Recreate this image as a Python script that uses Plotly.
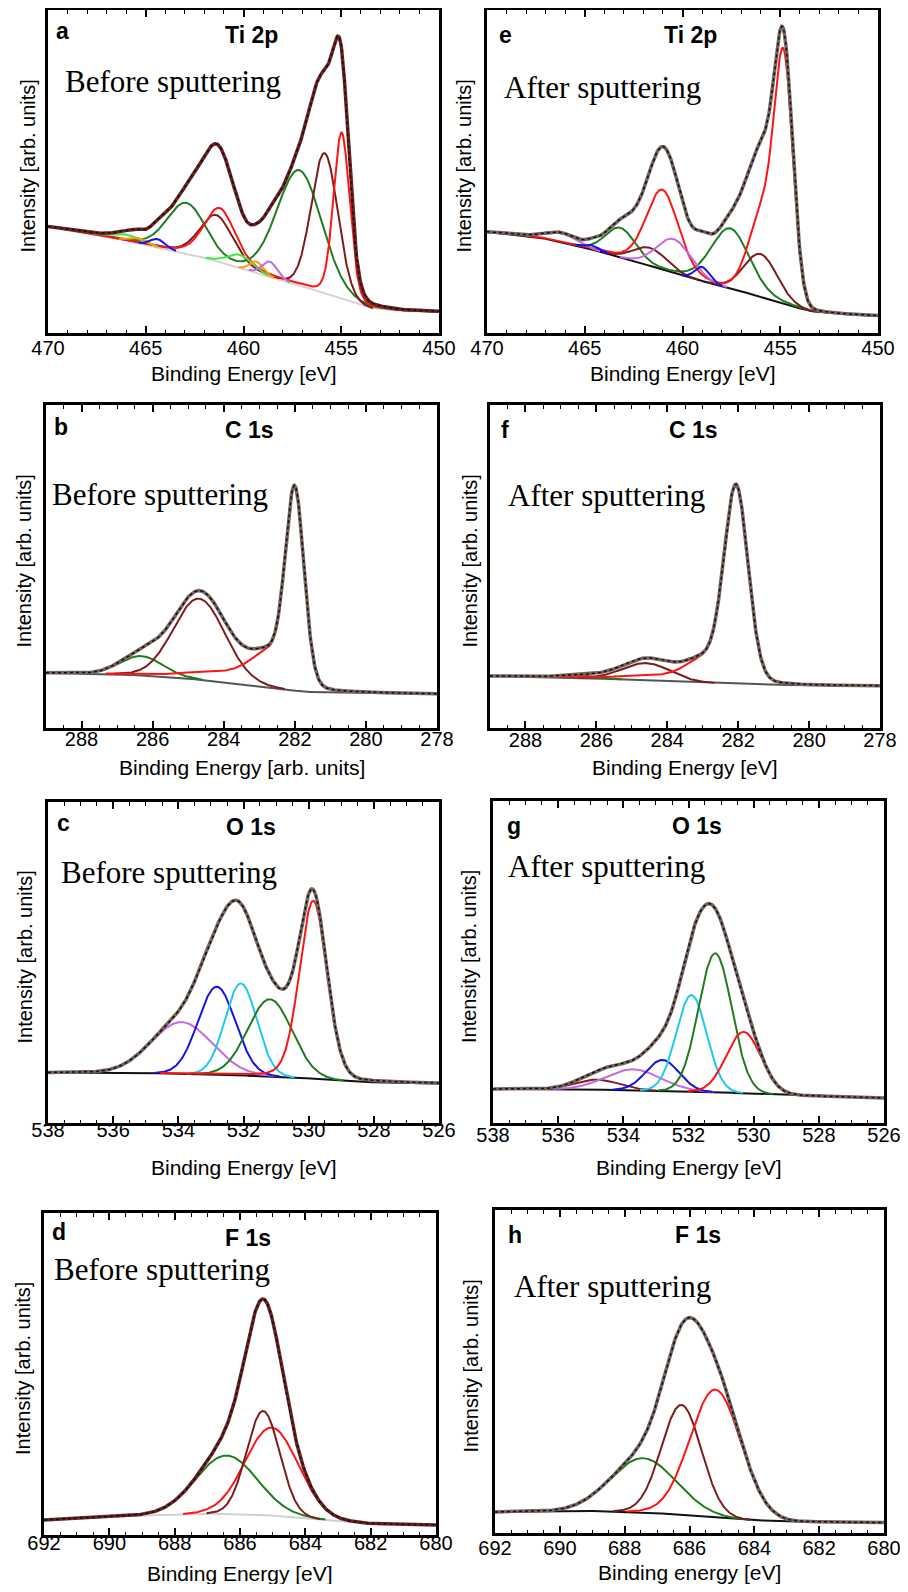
import numpy as np
import plotly.graph_objects as go

# ---- a: Ti 2p before sputtering
a_bg_ev = [470, 467.4, 464.9, 462.3, 459.8, 457.2, 454.65, 453.5, 452, 450]
a_bg_int = [106, 98, 88, 77, 63, 48, 32, 25, 22, 21]
a_center = [462.92, 457.13, 461.39, 455.85, 461.22, 454.98, 466.0, 460.2, 465.4, 459.34, 464.4, 458.66]
a_height = [50, 115, 46, 140, 54, 166, 6, 13, 5, 11, 8, 15]
a_fwhm = [2.3, 2.7, 2.0, 1.6, 1.9, 0.97, 1.6, 1.5, 1.0, 0.8, 0.9, 0.9]
a_mix = [0.1, 0.1, 0.2, 0, 0.3, 0.15, 0, 0, 0, 0, 0, 0]
a_comp = ['green', 'green', 'maroon', 'maroon', 'red', 'red', 'lime', 'lime', 'orange', 'orange', 'blue', 'violet']

# ---- e: Ti 2p after sputtering
e_bg_ev = [470, 467.4, 464.9, 462.3, 459.8, 457.2, 454.65, 453.5, 452, 450]
e_bg_int = [101, 96, 85, 71, 56, 43, 28, 22, 19, 17]
e_center = [463.18, 457.55, 461.65, 456.0, 461.03, 454.8, 455.8, 466.2, 460.45, 464.63, 459.0]
e_height = [29, 60, 18, 43, 80, 215, 90, 9, 34, 4, 14]
e_fwhm = [1.8, 2.3, 2.0, 2.0, 1.95, 1.09, 1.8, 1.8, 2.1, 0.9, 0.9]
e_mix = [0, 0.2, 0, 0, 0.2, 0, 0, 0, 0, 0, 0]
e_comp = ['green', 'green', 'maroon', 'maroon', 'red', 'red', 'red', 'violet', 'violet', 'blue', 'blue']

# ---- b: C 1s before sputtering
b_bg_ev = [289, 287, 285, 283, 281.7, 280, 278]
b_bg_int = [55, 54, 49.5, 42, 36, 35, 34]
b_center = [286.31, 284.69, 282.0, 282.7, 284.0]
b_height = [19.5, 81, 190, 30, 8]
b_fwhm = [1.4, 1.7, 0.62, 1.3, 2.5]
b_mix = [0, 0, 0.1, 0.3, 0]
b_comp = ['green', 'maroon', 'red', 'red', 'red']

# ---- f: C 1s after sputtering
f_bg_ev = [289, 286, 284, 282, 280, 278]
f_bg_int = [52, 49.5, 46.5, 44, 42.5, 42]
f_center = [286.5, 284.59, 282.06, 283.0, 284.3]
f_height = [2.5, 17.5, 195, 20, 4]
f_fwhm = [1.4, 1.6, 0.8, 1.2, 2.5]
f_mix = [0, 0, 0.1, 0.3, 0]
f_comp = ['green', 'maroon', 'red', 'red', 'red']

# ---- c: O 1s before sputtering
c_bg_ev = [538, 535, 533, 531, 529.5, 528.5, 526]
c_bg_int = [50.5, 50, 48.5, 46.5, 43.5, 41, 39.5]
c_center = [533.9, 532.82, 532.08, 531.19, 529.86]
c_height = [51.7, 88, 92, 77, 178]
c_fwhm = [2.2, 1.35, 1.15, 1.6, 1.0]
c_mix = [0, 0, 0, 0, 0.15]
c_comp = ['violet', 'blue', 'cyan', 'green', 'red']

# ---- g: O 1s after sputtering
g_bg_ev = [538, 535, 532, 530, 528.5, 526]
g_bg_int = [34, 33.5, 31.5, 29.5, 27.5, 25]
g_center = [534.8, 533.7, 532.8, 531.91, 531.18, 530.31]
g_height = [10, 21, 31, 96.5, 139, 61.3]
g_fwhm = [1.6, 2.0, 1.2, 1.1, 1.2, 1.25]
g_mix = [0, 0, 0, 0, 0, 0]
g_comp = ['maroon', 'violet', 'blue', 'cyan', 'green', 'red']

# ---- d: F 1s before sputtering
d_bg_ev = [692, 689, 687, 685.5, 684, 683, 682, 680]
d_bg_int = [15, 19.5, 21.5, 20.5, 17, 14, 11.5, 10]
d_center = [686.41, 685.03, 685.29]
d_height = [58.4, 88, 104]
d_fwhm = [2.2, 1.9, 1.2]
d_mix = [0, 0, 0]
d_comp = ['green', 'red', 'maroon']

# ---- h: F 1s after sputtering
h_bg_ev = [692, 689, 687.5, 686, 684.5, 683, 680]
h_bg_int = [21, 22, 21, 17.5, 13.5, 11.5, 10.5]
h_center = [687.42, 686.25, 685.2]
h_height = [54, 110, 128]
h_fwhm = [2.4, 1.45, 1.85]
h_mix = [0, 0, 0]
h_comp = ['green', 'maroon', 'red']

# axis ranges (high BE on the left) and tick steps
x_ranges = {'a': (470, 450), 'e': (470, 450), 'b': (289, 278), 'f': (289, 278),
            'c': (538, 526), 'g': (538, 526), 'd': (692, 680), 'h': (692, 680)}
x_dtick = {'a': (5, 1), 'e': (5, 1), 'b': (2, 0.5), 'f': (2, 0.5),
           'c': (2, 0.5), 'g': (2, 0.5), 'd': (2, 0.5), 'h': (2, 0.5)}

# texts
titles = {'a': 'Ti 2p', 'e': 'Ti 2p', 'b': 'C 1s', 'f': 'C 1s',
          'c': 'O 1s', 'g': 'O 1s', 'd': 'F 1s', 'h': 'F 1s'}
states = {'a': 'Before sputtering', 'b': 'Before sputtering', 'c': 'Before sputtering', 'd': 'Before sputtering',
          'e': 'After sputtering', 'f': 'After sputtering', 'g': 'After sputtering', 'h': 'After sputtering'}
x_titles = {'a': 'Binding Energy [eV]', 'e': 'Binding Energy [eV]',
            'b': 'Binding Energy [arb. units]', 'f': 'Binding Energy [eV]',
            'c': 'Binding Energy [eV]', 'g': 'Binding Energy [eV]',
            'd': 'Binding Energy [eV]', 'h': 'Binding energy [eV]'}
y_title = 'Intensity [arb. units]'

panels = {
    'a': (a_bg_ev, a_bg_int, a_center, a_height, a_fwhm, a_mix, a_comp),
    'e': (e_bg_ev, e_bg_int, e_center, e_height, e_fwhm, e_mix, e_comp),
    'b': (b_bg_ev, b_bg_int, b_center, b_height, b_fwhm, b_mix, b_comp),
    'f': (f_bg_ev, f_bg_int, f_center, f_height, f_fwhm, f_mix, f_comp),
    'c': (c_bg_ev, c_bg_int, c_center, c_height, c_fwhm, c_mix, c_comp),
    'g': (g_bg_ev, g_bg_int, g_center, g_height, g_fwhm, g_mix, g_comp),
    'd': (d_bg_ev, d_bg_int, d_center, d_height, d_fwhm, d_mix, d_comp),
    'h': (h_bg_ev, h_bg_int, h_center, h_height, h_fwhm, h_mix, h_comp),
}

#%% styles and geometry
# the page body keeps its default 8px margin: keep the figure inside it so nothing scrolls
OFF = 8
W, H = 908 - 2 * OFF, 1592 - 2 * OFF
colors = {'red': '#ff1414', 'maroon': '#7d1c1c', 'green': '#1f7d1f', 'lime': '#3fe83f',
          'orange': '#ff9a10', 'blue': '#1414e6', 'violet': '#c46be0', 'cyan': '#1ec8f5'}
bg_color = {'a': '#d4d4d4', 'e': '#111111', 'b': '#555555', 'f': '#555555',
            'c': '#111111', 'g': '#111111', 'd': '#d0d0d0', 'h': '#111111'}
env_color = {'a': '#6a2222', 'd': '#6a2222'}
# frame boxes in page px: left, right, top, bottom
frames = {'a': (48, 439, 10, 333), 'e': (487, 878, 10, 333),
          'b': (46, 437, 405, 728), 'f': (490, 880, 405, 728),
          'c': (48, 439, 802, 1123), 'g': (493, 884, 801, 1123),
          'd': (44, 436, 1213, 1535), 'h': (495, 884, 1210, 1533)}
state_pos = {'a': (15, 71), 'b': (4, 89), 'c': (11, 70), 'd': (8, 56),
             'e': (15, 77), 'f': (16, 90), 'g': (13, 65), 'h': (17, 76)}
letter_pos = {'a': (6, 21), 'b': (6, 22), 'c': (7, 21), 'd': (6, 19),
              'e': (10, 25), 'f': (9, 25), 'g': (12, 25), 'h': (11, 25)}
tick_standoff = {'a': -5, 'e': -5, 'b': -9, 'f': -8, 'c': -13, 'g': -8, 'd': -12, 'h': -5}
xtitle_gap = {'a': 40, 'e': 40, 'b': 39, 'f': 39, 'c': 44, 'g': 44, 'd': 38, 'h': 39}
ytitle_gap = {'a': 21, 'b': 23, 'c': 24, 'd': 21, 'e': 24, 'f': 21, 'g': 24, 'h': 25}

SANS = 'Liberation Sans, Arial, sans-serif'
SERIF = 'Liberation Serif, Times New Roman, serif'


def peak(x, c, h, w, m):
    u = ((x - c) / w) ** 2
    return h * ((1 - m) * np.exp(-4 * np.log(2) * u) + m / (1 + 4 * u))


def px(x):
    return (x - OFF) / W


def py(y):
    return 1 - (y - OFF) / H


fig = go.Figure()
annotations = []

for i, key in enumerate(panels):
    n = '' if i == 0 else str(i + 1)
    bg_ev, bg_int, cen, hei, fw, mix, comp = panels[key]
    hi, lo = x_ranges[key]
    x = np.linspace(hi, lo, 700)
    bg = np.interp(x, bg_ev[::-1], bg_int[::-1])

    total = np.zeros_like(x)
    groups = {}
    for c, h, w, m, g in zip(cen, hei, fw, mix, comp):
        p = peak(x, c, h, w, m)
        groups[g] = groups.get(g, 0) + p
        total += p

    xa, ya = 'x' + n, 'y' + n
    fig.add_trace(go.Scatter(x=x, y=bg, mode='lines', xaxis=xa, yaxis=ya,
                             line=dict(color=bg_color[key], width=2), showlegend=False))
    for g, p in groups.items():
        yy = np.where(p > 0.3, bg + p, np.nan)
        fig.add_trace(go.Scatter(x=x, y=yy, mode='lines', xaxis=xa, yaxis=ya,
                                 line=dict(color=colors[g], width=2), showlegend=False))
    env = bg + total
    fig.add_trace(go.Scatter(x=x, y=env, mode='lines', xaxis=xa, yaxis=ya,
                             line=dict(color=env_color.get(key, '#76645f'), width=3.5), showlegend=False))
    fig.add_trace(go.Scatter(x=x, y=env, mode='lines', xaxis=xa, yaxis=ya,
                             line=dict(color='#111111', width=1.5, dash='dot'), showlegend=False))

    l, r, t, b = frames[key]
    major, minor = x_dtick[key]
    fig.layout['xaxis' + n] = dict(
        domain=[px(l), px(r)], anchor=ya, range=[hi, lo], autorange=False, automargin=False,
        tick0=lo, dtick=major, ticks='inside', ticklen=7, tickwidth=1.5, tickcolor='black',
        minor=dict(dtick=minor, ticks='inside', ticklen=3.5, tickwidth=1.2, tickcolor='black'),
        showline=True, linewidth=3, linecolor='black', mirror='ticks',
        showgrid=False, zeroline=False, ticklabelstandoff=tick_standoff[key],
        ticklabeloverflow='allow', tickfont=dict(family=SANS, size=20, color='black'))
    fig.layout['yaxis' + n] = dict(
        domain=[py(b), py(t)], anchor=xa, range=[0, b - t], autorange=False, automargin=False,
        showticklabels=False, ticks='', showline=True, linewidth=3, linecolor='black',
        mirror=True, showgrid=False, zeroline=False)

    cx = (l + r) / 2
    annotations += [
        dict(text='<b>' + key + '</b>', x=px(l + letter_pos[key][0]), y=py(t + letter_pos[key][1]),
             xanchor='left', yanchor='middle', font=dict(family=SANS, size=23, color='black'),
             showarrow=False, xref='paper', yref='paper'),
        dict(text='<b>' + titles[key] + '</b>', x=px(cx + 8), y=py(t + 25),
             xanchor='center', yanchor='middle', font=dict(family=SANS, size=23, color='black'),
             showarrow=False, xref='paper', yref='paper'),
        dict(text=states[key], x=px(l + state_pos[key][0]), y=py(t + state_pos[key][1]),
             xanchor='left', yanchor='middle', font=dict(family=SERIF, size=31, color='black'),
             showarrow=False, xref='paper', yref='paper'),
        dict(text=x_titles[key], x=px(cx), y=py(b + xtitle_gap[key]),
             xanchor='center', yanchor='middle', font=dict(family=SANS, size=21, color='black'),
             showarrow=False, xref='paper', yref='paper'),
        dict(text=y_title, x=px(l - ytitle_gap[key]), y=py((t + b) / 2 - 5), textangle=-90,
             xanchor='center', yanchor='middle', font=dict(family=SANS, size=20, color='black'),
             showarrow=False, xref='paper', yref='paper'),
    ]

fig.update_layout(width=W, height=H, margin=dict(l=0, r=0, t=0, b=0),
                  plot_bgcolor='white', paper_bgcolor='white',
                  annotations=annotations, showlegend=False)

fig.write_html("out.html")
